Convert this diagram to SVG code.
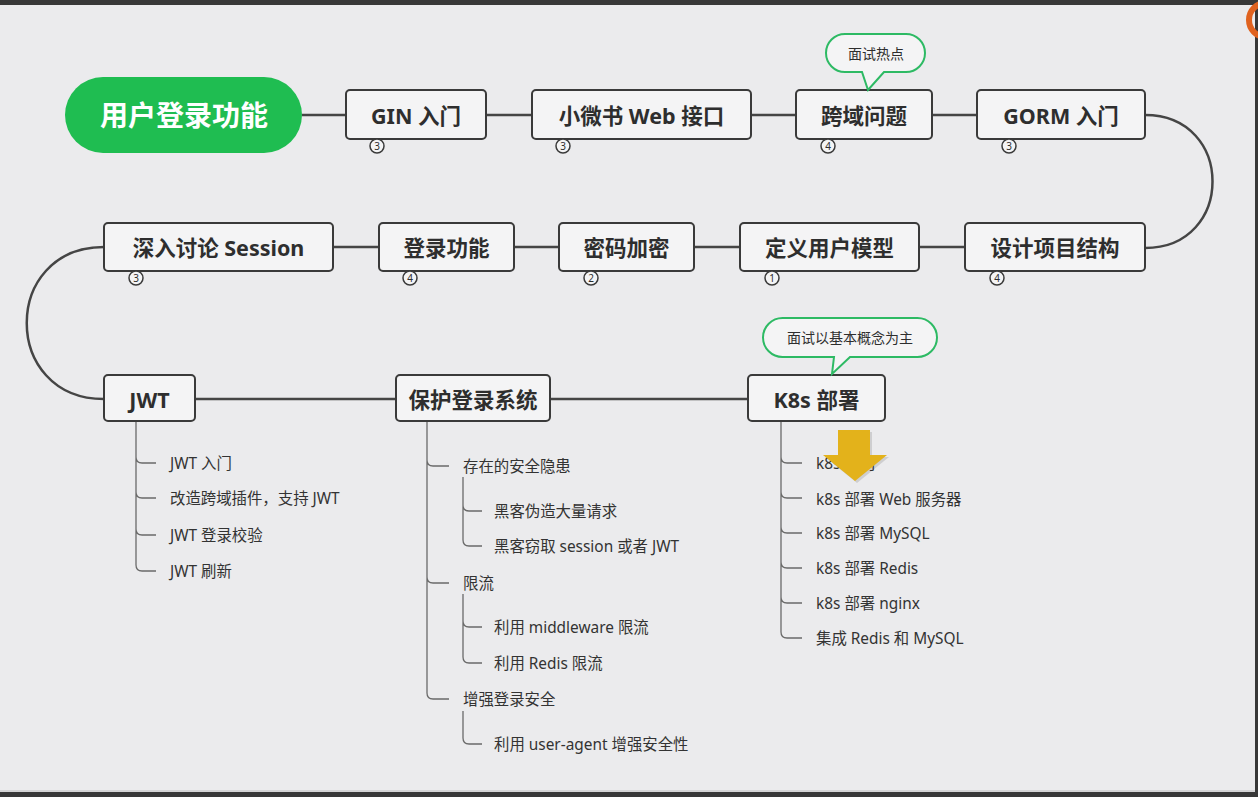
<svg xmlns="http://www.w3.org/2000/svg" width="1258" height="797" viewBox="0 0 1258 797">
<style>
text{font-family:"Noto Sans","Noto Sans CJK SC",sans-serif;fill:#2e2e2e}
.node{fill:#f4f4f5;stroke:#3a3a3a;stroke-width:2}
.nt{font-size:21.5px;font-weight:bold;text-anchor:middle;dominant-baseline:central}
.conn{fill:none;stroke:#454545;stroke-width:2.5}
.br{fill:none;stroke:#6a6a6a;stroke-width:1.3}
.leaf{font-size:15.4px;dominant-baseline:central;fill:#333}
.badge circle{fill:#f4f4f5;stroke:#3a3a3a;stroke-width:1.5}
.badge text{font-size:10px;text-anchor:middle;dominant-baseline:central}
.callout{fill:#f4f4f5;stroke:#2dba64;stroke-width:2}
.ct{font-size:14px;text-anchor:middle;dominant-baseline:central}
</style>
<rect x="0" y="0" width="1258" height="797" fill="#ebebed"/>
<rect x="0" y="0" width="1258" height="5" fill="#383838"/>
<rect x="1255" y="0" width="3" height="797" fill="#383838"/>
<rect x="0" y="792" width="1258" height="5" fill="#383838"/>
<line x1="0" y1="791" x2="1255" y2="791" stroke="#bdbdbd" stroke-width="1"/>
<circle cx="1266" cy="20" r="17" fill="none" stroke="#e0621f" stroke-width="6"/>

<g id="connectors">
  <path class="conn" d="M302 115 H346 M486 115 H532 M751 115 H796 M932 115 H977"/>
  <path class="conn" d="M1145 115 C1235 115 1235 248 1145 248"/>
  <path class="conn" d="M333 247 H379 M514 247 H559 M694 247 H740 M919 247 H965"/>
  <path class="conn" d="M104 247 C1 247 1 399 104 399"/>
  <path class="conn" d="M195 399 H396 M550 399 H748"/>
  <path class="br" d="M136 421 V565 M136 457 Q136 463 142 463 H156 M136 492 Q136 498 142 498 H156 M136 529 Q136 535 142 535 H156 M136 565 Q136 571 142 571 H156"/>
  <path class="br" d="M427 421 V693 M427 460 Q427 466 433 466 H449 M427 577 Q427 583 433 583 H449 M427 693 Q427 699 433 699 H449"/>
  <path class="br" d="M463 477 V540 M463 505 Q463 511 469 511 H482 M463 540 Q463 546 469 546 H482"/>
  <path class="br" d="M463 594 V657 M463 621 Q463 627 469 627 H482 M463 657 Q463 663 469 663 H482"/>
  <path class="br" d="M463 711 V738 M463 738 Q463 744 469 744 H482"/>
  <path class="br" d="M781 421 V632 M781 457 Q781 463 787 463 H802 M781 492 Q781 498 787 498 H802 M781 527 Q781 533 787 533 H802 M781 562 Q781 568 787 568 H802 M781 597 Q781 603 787 603 H802 M781 632 Q781 638 787 638 H802"/>
</g>

<g id="root">
  <rect x="65" y="77" width="237" height="76" rx="38" fill="#1fbd51"/>
  <text x="184" y="115" font-size="28" font-weight="bold" text-anchor="middle" dominant-baseline="central" style="fill:#ffffff">用户登录功能</text>
</g>

<g id="n-gin">
  <rect class="node" x="346" y="90" width="140" height="49" rx="4"/>
  <text class="nt" x="416" y="115">GIN 入门</text>
  <g class="badge"><circle cx="377" cy="146" r="7"/><text x="377" y="146">3</text></g>
</g>
<g id="n-web">
  <rect class="node" x="532" y="90" width="219" height="49" rx="4"/>
  <text class="nt" x="641.5" y="115">小微书 Web 接口</text>
  <g class="badge"><circle cx="563" cy="146" r="7"/><text x="563" y="146">3</text></g>
</g>
<g id="n-cors">
  <rect class="node" x="796" y="90" width="136" height="49" rx="4"/>
  <text class="nt" x="864" y="115">跨域问题</text>
  <g class="badge"><circle cx="828" cy="146" r="7"/><text x="828" y="146">4</text></g>
  <path class="callout" d="M845 34 H906 A19 19 0 0 1 906 72 H884 L868 90 L862 72 H845 A19 19 0 0 1 845 34 Z"/>
  <text class="ct" x="876" y="53">面试热点</text>
</g>
<g id="n-gorm">
  <rect class="node" x="977" y="90" width="168" height="49" rx="4"/>
  <text class="nt" x="1061" y="115">GORM 入门</text>
  <g class="badge"><circle cx="1009" cy="146" r="7"/><text x="1009" y="146">3</text></g>
</g>

<g id="n-session">
  <rect class="node" x="104" y="223" width="229" height="48" rx="4"/>
  <text class="nt" x="218.5" y="247">深入讨论 Session</text>
  <g class="badge"><circle cx="136" cy="278" r="7"/><text x="136" y="278">3</text></g>
</g>
<g id="n-login">
  <rect class="node" x="379" y="223" width="135" height="48" rx="4"/>
  <text class="nt" x="446.5" y="247">登录功能</text>
  <g class="badge"><circle cx="410" cy="278" r="7"/><text x="410" y="278">4</text></g>
</g>
<g id="n-encrypt">
  <rect class="node" x="559" y="223" width="135" height="48" rx="4"/>
  <text class="nt" x="626.5" y="247">密码加密</text>
  <g class="badge"><circle cx="591" cy="278" r="7"/><text x="591" y="278">2</text></g>
</g>
<g id="n-model">
  <rect class="node" x="740" y="223" width="179" height="48" rx="4"/>
  <text class="nt" x="829.5" y="247">定义用户模型</text>
  <g class="badge"><circle cx="772" cy="278" r="7"/><text x="772" y="278">1</text></g>
</g>
<g id="n-struct">
  <rect class="node" x="965" y="223" width="180" height="48" rx="4"/>
  <text class="nt" x="1055" y="247">设计项目结构</text>
  <g class="badge"><circle cx="997" cy="278" r="7"/><text x="997" y="278">4</text></g>
</g>

<g id="n-jwt">
  <rect class="node" x="104" y="375" width="91" height="46" rx="4"/>
  <text class="nt" x="149.5" y="399">JWT</text>
  <text class="leaf" x="170" y="463">JWT 入门</text>
  <text class="leaf" x="170" y="498">改造跨域插件，支持 JWT</text>
  <text class="leaf" x="170" y="535">JWT 登录校验</text>
  <text class="leaf" x="170" y="571">JWT 刷新</text>
</g>
<g id="n-protect">
  <rect class="node" x="396" y="375" width="154" height="46" rx="4"/>
  <text class="nt" x="473" y="399">保护登录系统</text>
  <text class="leaf" x="463" y="466">存在的安全隐患</text>
  <text class="leaf" x="494" y="511">黑客伪造大量请求</text>
  <text class="leaf" x="494" y="546">黑客窃取 session 或者 JWT</text>
  <text class="leaf" x="463" y="583">限流</text>
  <text class="leaf" x="494" y="627">利用 middleware 限流</text>
  <text class="leaf" x="494" y="663">利用 Redis 限流</text>
  <text class="leaf" x="463" y="699">增强登录安全</text>
  <text class="leaf" x="494" y="744">利用 user-agent 增强安全性</text>
</g>
<g id="n-k8s">
  <rect class="node" x="748" y="375" width="137" height="46" rx="4"/>
  <text class="nt" x="816.5" y="399">K8s 部署</text>
  <path class="callout" d="M782.5 318 H917.5 A19.5 19.5 0 0 1 917.5 357 H850 L832 374 L834 357 H782.5 A19.5 19.5 0 0 1 782.5 318 Z"/>
  <text class="ct" x="850" y="337.5">面试以基本概念为主</text>
  <text class="leaf" x="816" y="463">k8s 入门</text>
  <text class="leaf" x="816" y="499">k8s 部署 Web 服务器</text>
  <text class="leaf" x="816" y="533">k8s 部署 MySQL</text>
  <text class="leaf" x="816" y="568">k8s 部署 Redis</text>
  <text class="leaf" x="816" y="603">k8s 部署 nginx</text>
  <text class="leaf" x="816" y="638">集成 Redis 和 MySQL</text>
</g>

<g id="yellow-arrow">
  <polygon points="840,432 872,432 872,457 889,457 857,483 825,457 840,457" fill="#000" opacity="0.12"/>
  <polygon points="838,430 870,430 870,455 887,455 855,481 823,455 838,455" fill="#e3b21b"/>
</g>
</svg>
